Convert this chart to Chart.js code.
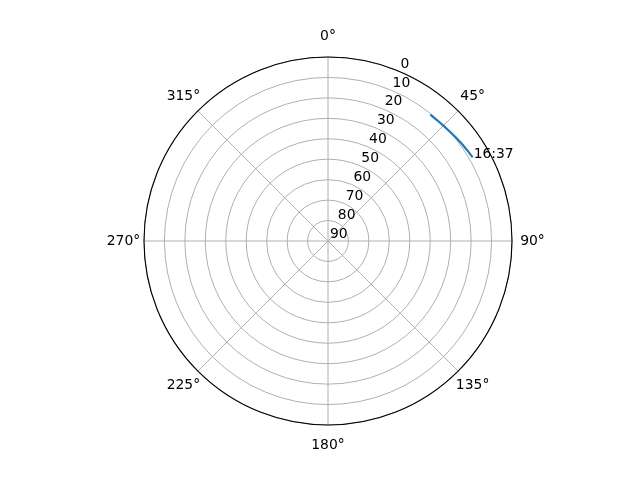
<!DOCTYPE html>
<html>
<head>
<meta charset="utf-8">
<script src="https://cdn.jsdelivr.net/npm/chart.js@4/dist/chart.umd.min.js"></script>
<style>
  html, body { margin: 0; padding: 0; background: #fff; }
  #wrap { width: 640px; height: 480px; }
</style>
</head>
<body>
<div id="wrap"><canvas id="myChart" width="640" height="480"></canvas></div>
<script>
// azimuth grid in 3 degree steps, 0 = north, clockwise
var azimuthStep = 3;
var azimuths = [];
for (var a = 0; a < 360; a += azimuthStep) azimuths.push(a);

// sun track (azimuth in degrees, value on the radial axis)
var trackAzimuths = [39, 42, 45, 48, 51, 54, 57, 60];
var trackValues = [10.5, 10.4, 10.2, 9.9, 9.5, 9.1, 8.7, 8.3];
var trackEndLabel = '16:37';

var angleTicks = [0, 45, 90, 135, 180, 225, 270, 315];
var angleTickLabels = ['0°', '45°', '90°', '135°', '180°', '225°', '270°', '315°'];
var radialTicks = [0, 10, 20, 30, 40, 50, 60, 70, 80, 90];
var radialTickLabels = ['0', '10', '20', '30', '40', '50', '60', '70', '80', '90'];

var series = azimuths.map(function(az) {
    var i = trackAzimuths.indexOf(az);
    return i >= 0 ? trackValues[i] : null;
});

var FONT = '13.9px "DejaVu Sans"';

var polarDecor = {
    id: 'polarDecor',
    afterDraw: function(chart) {
        var ctx = chart.ctx;
        var s = chart.scales.r;
        var cx = s.xCenter, cy = s.yCenter, R = s.drawingArea;
        ctx.save();
        // outer spine
        ctx.strokeStyle = '#000';
        ctx.lineWidth = 1.1;
        ctx.beginPath();
        ctx.arc(cx, cy, R, 0, Math.PI * 2);
        ctx.stroke();

        ctx.font = FONT;
        ctx.fillStyle = '#000';
        // angle labels
        ctx.textAlign = 'center';
        ctx.textBaseline = 'middle';
        angleTicks.forEach(function(deg, i) {
            var t = deg * Math.PI / 180;
            var d = R + 20.5;
            ctx.fillText(angleTickLabels[i], cx + d * Math.sin(t), cy - d * Math.cos(t));
        });
        // radial labels along 22.5 deg
        ctx.textAlign = 'left';
        ctx.textBaseline = 'bottom';
        var t2 = 22.5 * Math.PI / 180;
        radialTicks.forEach(function(v, i) {
            var d = s.getDistanceFromCenterForValue(v);
            ctx.fillText(radialTickLabels[i], cx + d * Math.sin(t2) + 2, cy - d * Math.cos(t2));
        });
        // time label at the end of the track
        var meta = chart.getDatasetMeta(0);
        var last = azimuths.indexOf(trackAzimuths[trackAzimuths.length - 1]);
        var p = meta.data[last];
        ctx.textBaseline = 'alphabetic';
        ctx.fillText(trackEndLabel, p.x + 1, p.y + 0.5);
        ctx.restore();
    }
};

var ctx = document.getElementById('myChart').getContext('2d');
var myChart = new Chart(ctx, {
    type: 'radar',
    data: {
        labels: azimuths,
        datasets: [{
            data: series,
            borderColor: '#1f77b4',
            borderWidth: 2.1,
            pointRadius: 0,
            fill: false,
            spanGaps: false
        }]
    },
    options: {
        responsive: false,
        animation: false,
        devicePixelRatio: 1,
        layout: { padding: { left: 16, right: 0, top: 57, bottom: 55 } },
        plugins: { legend: { display: false }, tooltip: { enabled: false } },
        elements: { line: { tension: 0 } },
        scales: {
            r: {
                min: 0,
                max: 90,
                reverse: true,
                ticks: { stepSize: 10, display: false },
                grid: { circular: true, color: '#b0b0b0', lineWidth: 1 },
                angleLines: {
                    color: '#b0b0b0',
                    lineWidth: function(c) {
                        return (c.index * azimuthStep) % 45 === 0 ? 1 : 0;
                    }
                },
                pointLabels: { display: false }
            }
        }
    },
    plugins: [polarDecor]
});
</script>
</body>
</html>
